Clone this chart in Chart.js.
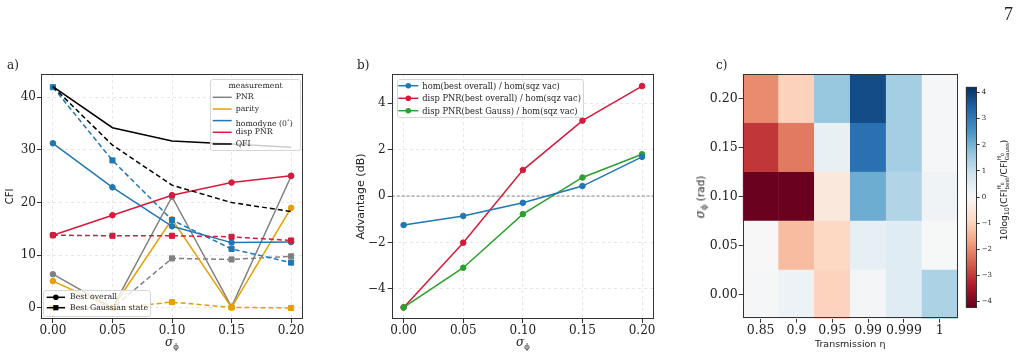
<!DOCTYPE html>
<html>
<head>
<meta charset="utf-8">
<script src="https://cdn.jsdelivr.net/npm/chart.js@4.4.0/dist/chart.umd.min.js"></script>
<style>
    html, body { margin: 0; padding: 0; background: #fff; }
    #page { position: relative; width: 1022px; height: 357px; overflow: hidden; font-family: 'DejaVu Serif', serif; color: #222; }
    canvas { position: absolute; }
    .txt { position: absolute; white-space: nowrap; }
    .ctr { transform: translate(-50%, -50%); }
    .rot { transform: translate(-50%, -50%) rotate(-90deg); }
    .lg-box { position: absolute; box-sizing: border-box; border: 1px solid #d6d6d6; border-radius: 3px; background: rgba(255,255,255,0.8); }
    .lg-svg { position: absolute; left: 0; top: 0; overflow: visible; }
    .math i { font-family: 'DejaVu Serif', serif; font-style: italic; }
    .math sub { font-size: 0.68em; vertical-align: -0.3em; }
    .stack { display: inline-block; vertical-align: middle; line-height: 1; font-size: 0.62em; text-align: left; }
    .stack span { display: block; }
</style>
</head>
<body>
<div id="page">
    <canvas id="chartA" width="340" height="357" style="left:0;top:0"></canvas>
    <canvas id="chartB" width="340" height="357" style="left:340px;top:0"></canvas>
    <canvas id="chartC" width="280" height="357" style="left:680px;top:0"></canvas>
    <canvas id="chartBar" width="62" height="357" style="left:960px;top:0"></canvas>

    <div class="txt" style="left:1004px;top:5px;font-family:'Liberation Serif',serif;font-size:18px;line-height:18px;">7</div>
    <div class="txt" style="left:7px;top:59px;font-size:12px;line-height:12px;">a)</div>
    <div class="txt" style="left:357px;top:59px;font-size:12px;line-height:12px;">b)</div>
    <div class="txt" style="left:716px;top:59px;font-size:12px;line-height:12px;">c)</div>

    <div class="txt ctr math" style="left:172px;top:343px;font-size:12px;"><i>σ</i><sub>ϕ</sub></div>
    <div class="txt ctr math" style="left:523px;top:343px;font-size:12px;"><i>σ</i><sub>ϕ</sub></div>
    <div class="txt rot math" style="left:701px;top:197px;font-size:12px;"><i>σ</i><sub>ϕ</sub><span style="font-family:'DejaVu Sans',sans-serif;font-size:10.5px;"> (rad)</span></div>
    <div class="txt rot" style="left:1004px;top:190px;font-family:'DejaVu Sans',sans-serif;font-size:9px;">10log<sub style="font-size:0.7em">10</sub>(CFI<span class="stack"><span>H<sub style="font-size:0.8em">0</sub></span><span>best</span></span>/CFI<span class="stack"><span>H<sub style="font-size:0.8em">0</sub></span><span>Gauss</span></span>)</div>
</div>

<script>
// ---- Data ----
// a) CFI against phase noise
const sigmaVals = [0, 0.05, 0.10, 0.15, 0.20];
const sigmaTicks = [0, 0.05, 0.10, 0.15, 0.20];
const cfiTicks = [0, 10, 20, 30, 40];

// best overall state (solid, circles)
const pnrOverall = [6.4, 0.0, 21.1, 0.2, 25.0];
const parityOverall = [5.1, 0.0, 16.8, 0.1, 19.0];
const homOverall = [31.25, 22.9, 15.5, 12.4, 12.5];
const dispOverall = [13.8, 17.6, 21.4, 23.8, 25.1];
const qfiOverall = [42.0, 34.2, 31.7, 31.1, 30.5];

// best Gaussian state (dashed, squares)
const pnrGauss = [0.0, 0.0, 9.4, 9.2, 9.8];
const parityGauss = [0.0, 0.0, 1.1, 0.1, 0.0];
const homGauss = [41.9, 28.0, 16.7, 11.2, 8.6];
const dispGauss = [13.8, 13.7, 13.7, 13.5, 12.8];
const qfiGauss = [42.0, 30.9, 23.3, 20.0, 18.3];

// b) advantage in dB
const advTicks = [-4, -2, 0, 2, 4];
const homAdv = [-1.25, -0.86, -0.29, 0.43, 1.69];
const dispAdv = [-4.8, -2.01, 1.12, 3.25, 4.74];
const dispGaussAdv = [-4.8, -3.09, -0.78, 0.80, 1.80];

// c) heatmap, one row per sigma (rad)
const transLabels = ['0.85', '0.9', '0.95', '0.99', '0.999', '1'];
const sigmaRows = [0, 0.05, 0.10, 0.15, 0.20];
const heatRow000 = [0.04, 0.24, -0.95, 0.09, 0.50, 1.35];
const heatRow005 = [0.0, -1.31, -0.89, 0.38, 0.53, 0.02];
const heatRow010 = [-4.2, -4.2, -0.45, 2.09, 1.27, 0.18];
const heatRow015 = [-3.03, -2.21, 0.31, 3.17, 1.45, 0.05];
const heatRow020 = [-2.0, -0.98, 1.61, 3.78, 1.45, 0.05];
const heatRows = [heatRow000, heatRow005, heatRow010, heatRow015, heatRow020];
const cbarTicks = [-4, -3, -2, -1, 0, 1, 2, 3, 4];
const cbarLimit = 4.22;

// RdBu colour stops (low -> high)
const rdbuStops = ['#67001f', '#b2182b', '#d6604d', '#f4a582', '#fddbc7', '#f7f7f7',
                   '#d1e5f0', '#92c5de', '#4393c3', '#2166ac', '#053061'];

const C_GRAY = '#808080';
const C_ORANGE = '#e69f00';
const C_BLUE = '#1f77b4';
const C_RED = '#d61a3c';
const C_GREEN = '#2ca02c';
const C_BLACK = '#000000';

document.addEventListener('DOMContentLoaded', () => {
    Chart.defaults.font.family = "'DejaVu Serif', serif";
    Chart.defaults.font.size = 12;
    Chart.defaults.color = '#222';
    Chart.register(framePlugin, zeroLinePlugin);

    renderPanelA();
    renderPanelB();
    renderHeatmap();
    renderColorbar();
    buildLegends();
});

// 1. Small helpers
const framePlugin = {
    id: 'frame',
    afterDraw(chart, args, opts) {
        if (!opts.color) return;
        const { ctx, chartArea: a } = chart;
        ctx.save();
        ctx.strokeStyle = opts.color;
        ctx.lineWidth = 1;
        ctx.strokeRect(Math.round(a.left) + 0.5, Math.round(a.top) + 0.5,
                       Math.round(a.right - a.left) - 1, Math.round(a.bottom - a.top) - 1);
        ctx.restore();
    }
};

const zeroLinePlugin = {
    id: 'zeroLine',
    beforeDatasetsDraw(chart, args, opts) {
        if (!opts.show) return;
        const { ctx, chartArea: a, scales } = chart;
        const y = scales.y.getPixelForValue(0);
        ctx.save();
        ctx.strokeStyle = '#888';
        ctx.lineWidth = 1;
        ctx.setLineDash([3, 2]);
        ctx.beginPath();
        ctx.moveTo(a.left, y);
        ctx.lineTo(a.right, y);
        ctx.stroke();
        ctx.restore();
    }
};

function hexToRgb(h) {
    return [parseInt(h.slice(1, 3), 16), parseInt(h.slice(3, 5), 16), parseInt(h.slice(5, 7), 16)];
}

function rdbuColor(v) {
    let t = (v + cbarLimit) / (2 * cbarLimit);
    t = Math.max(0, Math.min(1, t)) * (rdbuStops.length - 1);
    const i = Math.min(Math.floor(t), rdbuStops.length - 2);
    const f = t - i;
    const a = hexToRgb(rdbuStops[i]);
    const b = hexToRgb(rdbuStops[i + 1]);
    const c = a.map((x, k) => Math.round(x + (b[k] - x) * f));
    return `rgb(${c[0]}, ${c[1]}, ${c[2]})`;
}

function minusSign(v) {
    return v < 0 ? '\u2212' + Math.abs(v) : String(v);
}

function fixedTicks(values) {
    return scale => { scale.ticks = values.map(v => ({ value: v })); };
}

function lineSet(label, ys, color, dashed, markers) {
    return {
        label: label,
        data: sigmaVals.map((x, i) => ({ x: x, y: ys[i] })),
        borderColor: color,
        backgroundColor: color,
        borderWidth: 1.5,
        borderDash: dashed ? [5, 3] : [],
        pointStyle: dashed ? 'rect' : 'circle',
        pointRadius: markers ? (dashed ? 3.6 : 2.8) : 0,
        pointBorderWidth: 1,
        pointBorderColor: color,
        tension: 0
    };
}

function sigmaAxis() {
    return {
        type: 'linear',
        min: -0.01,
        max: 0.21,
        afterBuildTicks: fixedTicks(sigmaTicks),
        afterFit: s => { s.height = 38; },
        ticks: { callback: v => v.toFixed(2), padding: 1, autoSkip: false, maxRotation: 0 },
        grid: { color: 'rgba(0,0,0,0.12)', lineWidth: 0.8, tickColor: '#333', tickLength: 4, tickWidth: 1 },
        border: { display: false, dash: [3, 3] }
    };
}

// 2. Panel a) CFI
function renderPanelA() {
    const ctx = document.getElementById('chartA').getContext('2d');
    new Chart(ctx, {
        type: 'line',
        data: {
            datasets: [
                lineSet('QFI', qfiOverall, C_BLACK, false, false),
                lineSet('QFI Gauss', qfiGauss, C_BLACK, true, false),
                lineSet('disp PNR', dispOverall, C_RED, false, true),
                lineSet('disp PNR Gauss', dispGauss, C_RED, true, true),
                lineSet('homodyne', homOverall, C_BLUE, false, true),
                lineSet('homodyne Gauss', homGauss, C_BLUE, true, true),
                lineSet('parity', parityOverall, C_ORANGE, false, true),
                lineSet('parity Gauss', parityGauss, C_ORANGE, true, true),
                lineSet('PNR', pnrOverall, C_GRAY, false, true),
                lineSet('PNR Gauss', pnrGauss, C_GRAY, true, true)
            ]
        },
        options: {
            responsive: false,
            animation: false,
            layout: { padding: { left: 0, right: 37, top: 74, bottom: 0 } },
            plugins: { legend: { display: false }, tooltip: { enabled: false }, frame: { color: '#333' } },
            scales: {
                x: sigmaAxis(),
                y: {
                    min: -2.1,
                    max: 44.4,
                    afterBuildTicks: fixedTicks(cfiTicks),
                    afterFit: s => { s.width = 41; },
                    ticks: { padding: 1 },
                    title: { display: true, text: 'CFI', font: { family: "'DejaVu Sans', sans-serif", size: 10 }, padding: { top: 4, bottom: 4 } },
                    grid: { color: 'rgba(0,0,0,0.12)', lineWidth: 0.8, tickColor: '#333', tickLength: 4, tickWidth: 1 },
                    border: { display: false, dash: [3, 3] }
                }
            }
        }
    });
}

// 3. Panel b) advantage (dB)
function renderPanelB() {
    const ctx = document.getElementById('chartB').getContext('2d');
    new Chart(ctx, {
        type: 'line',
        data: {
            datasets: [
                lineSet('hom(best overall) / hom(sqz vac)', homAdv, C_BLUE, false, true),
                lineSet('disp PNR(best Gauss) / hom(sqz vac)', dispGaussAdv, C_GREEN, false, true),
                lineSet('disp PNR(best overall) / hom(sqz vac)', dispAdv, C_RED, false, true)
            ]
        },
        options: {
            responsive: false,
            animation: false,
            layout: { padding: { left: 10.1, right: 26, top: 74, bottom: 0 } },
            plugins: { legend: { display: false }, tooltip: { enabled: false }, frame: { color: '#333' }, zeroLine: { show: true } },
            scales: {
                x: sigmaAxis(),
                y: {
                    min: -5.3,
                    max: 5.26,
                    afterBuildTicks: fixedTicks(advTicks),
                    afterFit: s => { s.width = 41.6; },
                    ticks: { padding: 2, callback: v => minusSign(v) },
                    title: { display: true, text: 'Advantage (dB)', font: { family: "'DejaVu Sans', sans-serif", size: 11 }, padding: { top: 4, bottom: 4 } },
                    grid: { color: 'rgba(0,0,0,0.12)', lineWidth: 0.8, tickColor: '#333', tickLength: 4, tickWidth: 1 },
                    border: { display: false, dash: [3, 3] }
                }
            }
        }
    });
}

// 4. Panel c) heatmap built from floating bars
function renderHeatmap() {
    const ctx = document.getElementById('chartC').getContext('2d');
    const half = 0.025;
    const datasets = sigmaRows.map((s, r) => ({
        label: s.toFixed(2),
        data: heatRows[r].map(() => [s - half, s + half]),
        backgroundColor: heatRows[r].map(v => rdbuColor(v)),
        borderColor: heatRows[r].map(v => rdbuColor(v)),
        borderWidth: 0.6,
        borderSkipped: false,
        grouped: false,
        barPercentage: 1,
        categoryPercentage: 1
    }));

    new Chart(ctx, {
        type: 'bar',
        data: { labels: transLabels, datasets: datasets },
        options: {
            responsive: false,
            animation: false,
            layout: { padding: { left: 0, right: 2.3, top: 74.3, bottom: 2.6 } },
            plugins: { legend: { display: false }, tooltip: { enabled: false }, frame: { color: '#333' } },
            scales: {
                x: {
                    afterFit: s => { s.height = 35.7; },
                    ticks: { font: { size: 12.5 }, padding: 1, maxRotation: 0, autoSkip: false },
                    title: { display: true, text: 'Transmission η', font: { family: "'DejaVu Sans', sans-serif", size: 9.5 }, padding: { top: 4, bottom: 4 } },
                    grid: { offset: false, drawOnChartArea: false, tickColor: '#333', tickLength: 4 },
                    border: { display: false }
                },
                y: {
                    min: -0.025,
                    max: 0.225,
                    afterBuildTicks: fixedTicks(sigmaRows),
                    afterFit: s => { s.width = 62.7; },
                    ticks: { font: { size: 12.5 }, padding: 1, callback: v => v.toFixed(2) },
                    grid: { drawOnChartArea: false, tickColor: '#333', tickLength: 4 },
                    border: { display: false }
                }
            }
        }
    });
}

// 5. Colour bar
function renderColorbar() {
    const ctx = document.getElementById('chartBar').getContext('2d');
    new Chart(ctx, {
        type: 'bar',
        data: {
            labels: [''],
            datasets: [{
                data: [[-cbarLimit, cbarLimit]],
                backgroundColor: c => {
                    const chart = c.chart;
                    if (!chart.chartArea) return '#f7f7f7';
                    const y = chart.scales.y;
                    const g = chart.ctx.createLinearGradient(0, y.getPixelForValue(-cbarLimit), 0, y.getPixelForValue(cbarLimit));
                    rdbuStops.forEach((col, i) => g.addColorStop(i / (rdbuStops.length - 1), col));
                    return g;
                },
                borderWidth: 0,
                barPercentage: 1,
                categoryPercentage: 1
            }]
        },
        options: {
            responsive: false,
            animation: false,
            layout: { padding: { left: 5.7, right: 0, top: 86.7, bottom: 49.7 } },
            plugins: { legend: { display: false }, tooltip: { enabled: false }, frame: { color: '#333' } },
            scales: {
                x: { display: false },
                y: {
                    position: 'right',
                    min: -cbarLimit,
                    max: cbarLimit,
                    afterBuildTicks: fixedTicks(cbarTicks),
                    afterFit: s => { s.width = 45.3; },
                    ticks: { font: { size: 7 }, padding: 2, callback: v => minusSign(v) },
                    grid: { drawOnChartArea: false, tickColor: '#333', tickLength: 3 },
                    border: { display: false }
                }
            }
        }
    });
}

// 6. Legends (HTML text, SVG samples)
function buildLegends() {
    const page = document.getElementById('page');

    function legend(box, rows, sample, textX, fontSize, title) {
        const div = document.createElement('div');
        div.className = 'lg-box';
        div.style.left = box.x + 'px';
        div.style.top = box.y + 'px';
        div.style.width = box.w + 'px';
        div.style.height = box.h + 'px';
        page.appendChild(div);

        const ns = 'http://www.w3.org/2000/svg';
        const svg = document.createElementNS(ns, 'svg');
        svg.setAttribute('class', 'lg-svg');
        svg.setAttribute('width', '1022');
        svg.setAttribute('height', '357');
        page.appendChild(svg);

        if (title) addText(title.text, title.x, title.y, fontSize, 'center');

        rows.forEach(r => {
            const ln = document.createElementNS(ns, 'line');
            ln.setAttribute('x1', sample[0]);
            ln.setAttribute('x2', sample[1]);
            ln.setAttribute('y1', r.y);
            ln.setAttribute('y2', r.y);
            ln.setAttribute('stroke', r.color);
            ln.setAttribute('stroke-width', 1.5);
            svg.appendChild(ln);
            const mx = (sample[0] + sample[1]) / 2;
            if (r.marker === 'circle') {
                const c = document.createElementNS(ns, 'circle');
                c.setAttribute('cx', mx);
                c.setAttribute('cy', r.y);
                c.setAttribute('r', 2.8);
                c.setAttribute('fill', r.color);
                svg.appendChild(c);
            } else if (r.marker === 'square') {
                const q = document.createElementNS(ns, 'rect');
                q.setAttribute('x', mx - 2.6);
                q.setAttribute('y', r.y - 2.6);
                q.setAttribute('width', 5.2);
                q.setAttribute('height', 5.2);
                q.setAttribute('fill', r.color);
                svg.appendChild(q);
            }
            addText(r.label, textX, r.y, fontSize, 'left');
        });
    }

    function addText(html, x, y, size, align) {
        const t = document.createElement('div');
        t.className = 'txt';
        t.style.fontSize = size + 'px';
        t.style.lineHeight = size + 'px';
        t.style.top = (y - size / 2) + 'px';
        if (align === 'center') {
            t.style.left = x + 'px';
            t.style.transform = 'translateX(-50%)';
        } else {
            t.style.left = x + 'px';
        }
        t.innerHTML = html;
        page.appendChild(t);
    }

    // a) measurement legend
    legend({ x: 210, y: 79, w: 91, h: 72 }, [
        { label: 'PNR', color: C_GRAY, y: 97.3 },
        { label: 'parity', color: C_ORANGE, y: 109 },
        { label: 'homodyne (0<sup style="font-size:0.7em">∘</sup>)', color: C_BLUE, y: 120.6 },
        { label: 'disp PNR', color: C_RED, y: 132.3 },
        { label: 'QFI', color: C_BLACK, y: 144 }
    ], [212.7, 231.7], 235.7, 7.8, { text: 'measurement', x: 255.5, y: 85.5 });

    // a) state legend
    legend({ x: 42.7, y: 290, w: 108, h: 27 }, [
        { label: 'Best overall', color: C_BLACK, marker: 'circle', y: 297.3 },
        { label: 'Best Gaussian state', color: C_BLACK, marker: 'square', y: 307.7 }
    ], [46.7, 65], 70, 7.8);

    // b) ratio legend
    legend({ x: 396.7, y: 79.3, w: 187.5, h: 39 }, [
        { label: 'hom(best overall) / hom(sqz vac)', color: C_BLUE, marker: 'circle', y: 85.7 },
        { label: 'disp PNR(best overall) / hom(sqz vac)', color: C_RED, marker: 'circle', y: 98.3 },
        { label: 'disp PNR(best Gauss) / hom(sqz vac)', color: C_GREEN, marker: 'circle', y: 110.7 }
    ], [398.3, 418.3], 422.3, 8.3);
}
</script>
</body>
</html>
